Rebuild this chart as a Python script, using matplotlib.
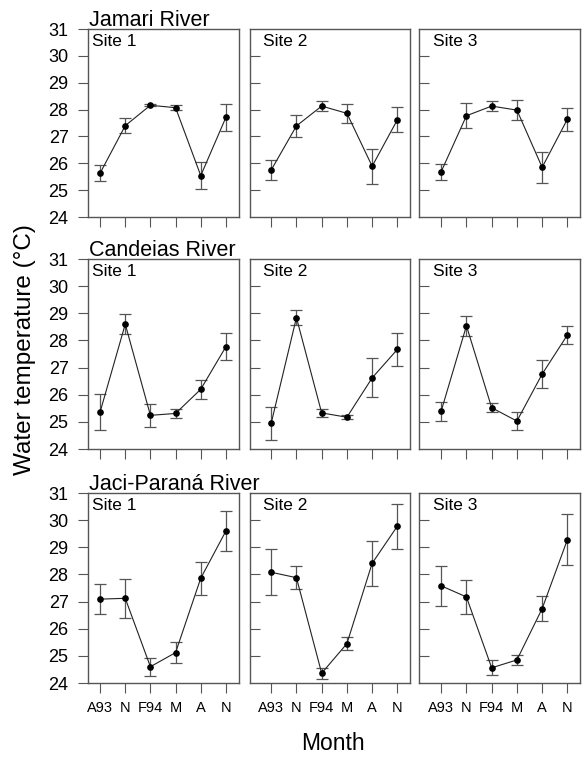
import matplotlib
matplotlib.use("Agg")
import matplotlib.pyplot as plt

plt.rcParams['font.family'] = ['Liberation Sans', 'DejaVu Sans']

months = ["A93", "N", "F94", "M", "A", "N"]
rivers = ["Jamari River", "Candeias River", "Jaci-Paraná River"]
sites = ["Site 1", "Site 2", "Site 3"]

# mean water temperature per river, per site
jamari_mean = [
    [25.63, 27.40, 28.16, 28.07, 25.54, 27.71],
    [25.75, 27.39, 28.13, 27.86, 25.89, 27.62],
    [25.69, 27.77, 28.13, 27.98, 25.85, 27.64],
]
jamari_err = [
    [0.30, 0.27, 0.04, 0.10, 0.50, 0.50],
    [0.38, 0.40, 0.20, 0.35, 0.66, 0.46],
    [0.30, 0.46, 0.19, 0.37, 0.58, 0.43],
]
candeias_mean = [
    [25.36, 28.60, 25.24, 25.31, 26.20, 27.77],
    [24.95, 28.84, 25.33, 25.17, 26.62, 27.67],
    [25.40, 28.54, 25.52, 25.03, 26.76, 28.20],
]
candeias_err = [
    [0.66, 0.36, 0.42, 0.17, 0.36, 0.50],
    [0.60, 0.27, 0.15, 0.07, 0.72, 0.60],
    [0.35, 0.36, 0.17, 0.32, 0.52, 0.33],
]
jaci_mean = [
    [27.09, 27.12, 24.60, 25.12, 27.86, 29.60],
    [28.08, 27.88, 24.36, 25.45, 28.41, 29.78],
    [27.58, 27.17, 24.56, 24.85, 26.74, 29.28],
]
jaci_err = [
    [0.55, 0.72, 0.33, 0.38, 0.60, 0.72],
    [0.85, 0.42, 0.20, 0.24, 0.84, 0.83],
    [0.74, 0.62, 0.28, 0.20, 0.47, 0.95],
]

means = [jamari_mean, candeias_mean, jaci_mean]
errs = [jamari_err, candeias_err, jaci_err]

W, H = 584, 758
fig = plt.figure(figsize=(W / 100, H / 100), dpi=100)

# panel frames in pixels: (left, right) per column, (top, bottom) per row
cols = [(88, 239), (250, 410), (419, 580)]
rows = [(29, 217), (259, 449), (493, 683)]
xlims = [(-0.48, 5.52), (-0.84, 5.5), (-0.88, 5.5)]
site_dx = [4, 13, 14]

for r in range(3):
    for c in range(3):
        l, rt = cols[c]
        t, b = rows[r]
        ax = fig.add_axes([l / W, 1 - b / H, (rt - l) / W, (b - t) / H])
        x = list(range(len(months)))
        ax.errorbar(x, means[r][c], yerr=errs[r][c], fmt='none',
                    ecolor='#555555', elinewidth=0.9, capsize=4, capthick=0.9)
        ax.plot(x, means[r][c], color='#222222', lw=0.8, marker='o',
                ms=3.8, mfc='black', mec='black')
        ax.set_xlim(*xlims[c])
        ax.set_ylim(24, 31)
        ax.set_xticks(x)
        for s in ax.spines.values():
            s.set_color('#555555')
            s.set_linewidth(1.0)
        ax.tick_params(axis='x', direction='out', length=7, width=0.8,
                       color='#555555', labelsize=10.5, pad=6)
        if r == 2:
            ax.set_xticklabels(months)
        else:
            ax.set_xticklabels([])
        if c == 0:
            ax.set_yticks(range(24, 32))
            ax.tick_params(axis='y', direction='out', length=7, width=0.8,
                           color='#555555', labelsize=13, pad=7)
        else:
            ax.set_yticks(range(25, 31))
            ax.set_yticklabels([])
            ax.tick_params(axis='y', direction='in', length=7, width=0.8,
                           color='#555555')
        ax.annotate(sites[c], xy=(0, 1), xycoords='axes fraction',
                    xytext=(site_dx[c], -5), textcoords='offset pixels',
                    ha='left', va='top', fontsize=12.5)
        if c == 0:
            ax.annotate(rivers[r], xy=(0, 1), xycoords='axes fraction',
                        xytext=(1, 3), textcoords='offset pixels',
                        ha='left', va='baseline', fontsize=15.5)

fig.text(25 / W, 1 - 350 / H, "Water temperature (°C)", rotation=90,
         ha='center', va='center', fontsize=17.5)
fig.text(333 / W, 1 - 743 / H, "Month", ha='center', va='center', fontsize=16.5)

fig.savefig("out.png", dpi=100)
